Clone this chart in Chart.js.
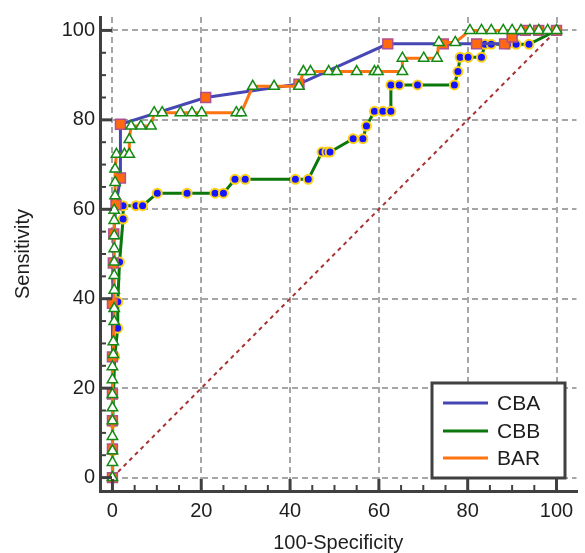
<!DOCTYPE html>
<html><head><meta charset="utf-8">
<script src="https://cdn.jsdelivr.net/npm/chart.js@4/dist/chart.umd.min.js"></script>
<style>html,body{margin:0;padding:0;background:#fff;}</style>
</head><body>
<canvas id="c" width="585" height="553"></canvas>
<script>
// ---- data ----
const seriesNames = ['CBA', 'CBB', 'BAR'];
const cbaX = [0, 0, 0, 0, 0, 0, 0.2, 0.3, 0.8, 1.8, 1.8, 21, 42, 62, 74.5, 82, 88.3, 90, 93, 96, 100];
const cbaY = [0, 6.4, 12.7, 18.7, 27, 39, 48, 54.5, 61, 67, 79, 85, 88, 97, 97, 97, 97, 98.5, 100, 100, 100];
const cbbX = [0, 0, 0.1, 0.5, 1.2, 1.2, 1.6, 2.4, 2.4, 5.3, 6.8, 10.1, 16.8, 23.1, 25, 27.6, 29.9, 41.2, 44.1, 47.2, 48.3, 49, 54.2, 56.4, 57.2, 59, 60.9, 62.7, 62.7, 64.6, 68.7, 77, 77.8, 78.3, 80.1, 83.1, 83.9, 85.3, 89, 90.9, 93.8, 100];
const cbbY = [0, 6, 12.3, 27.1, 33.4, 39.3, 48.2, 57.8, 60.8, 60.8, 60.8, 63.6, 63.6, 63.6, 63.6, 66.7, 66.7, 66.7, 66.7, 72.8, 72.8, 72.8, 75.8, 75.8, 78.6, 81.9, 81.9, 81.9, 87.8, 87.8, 87.8, 87.8, 90.8, 94, 94, 94, 96.9, 96.9, 96.9, 96.9, 96.9, 100];
const barX = [0, 0, 0, 0, 0, 0, 0, 0, 0, 0.2, 0.2, 0.4, 0.4, 0.4, 0.4, 0.4, 0.4, 0.4, 0.4, 0.4, 0.6, 0.6, 0.6, 0.9, 2.7, 3.8, 3.8, 4.2, 6.4, 8.7, 9.4, 11.2, 15.3, 17.9, 20.1, 27.9, 29, 31.6, 36.4, 42, 43, 44.6, 48.7, 50.5, 55, 59, 59.8, 65.3, 65.3, 70.1, 73.1, 73.5, 77.2, 80.5, 83.1, 85.3, 88, 90, 92, 94, 96, 98, 100];
const barY = [0, 3.4, 6, 9.2, 12.7, 15.6, 18.6, 21.9, 24.8, 27.5, 30.4, 34.9, 37.8, 41.9, 45.2, 48.2, 51.2, 54.1, 57.5, 59.8, 63, 66, 69, 72.3, 72.3, 72.3, 75.6, 78.6, 78.6, 78.6, 81.6, 81.6, 81.6, 81.6, 81.6, 81.6, 81.6, 87.5, 87.5, 87.5, 90.8, 90.8, 90.8, 90.8, 90.8, 90.8, 90.8, 90.8, 93.8, 93.8, 93.8, 97.3, 97.3, 100, 100, 100, 100, 100, 100, 100, 100, 100, 100];
const refX = [0, 100];
const refY = [0, 100];
const axisTickValues = [0, 20, 40, 60, 80, 100];
const xTitle = '100-Specificity';
const yTitle = 'Sensitivity';

const pts = (xs, ys) => xs.map((x, i) => ({x: x, y: ys[i]}));

const FONT = 'Arial, "Liberation Sans", sans-serif';
const TXT = '#1e1e1e';
const AXIS = '#404040';

const innerTicks = {
  id: 'innerTicks',
  afterDatasetsDraw(chart) {
    const ctx = chart.ctx, xs = chart.scales.x, ys = chart.scales.y, a = chart.chartArea;
    ctx.save();
    ctx.strokeStyle = AXIS;
    for (let v = 0; v <= 100; v += 5) {
      const major = axisTickValues.includes(v);
      ctx.lineWidth = major ? 3 : 2;
      const len = major ? 12 : 6;
      const py = ys.getPixelForValue(v);
      ctx.beginPath(); ctx.moveTo(a.left, py); ctx.lineTo(a.left + len, py); ctx.stroke();
      const px = xs.getPixelForValue(v);
      ctx.beginPath(); ctx.moveTo(px, a.bottom); ctx.lineTo(px, a.bottom - len); ctx.stroke();
    }
    ctx.restore();
  },
  afterDraw(chart) {
    const ctx = chart.ctx;
    const bx = 432, by = 383, bw = 133, bh = 95;
    ctx.save();
    ctx.fillStyle = '#fff';
    ctx.fillRect(bx, by, bw, bh);
    ctx.strokeStyle = AXIS; ctx.lineWidth = 3;
    ctx.strokeRect(bx, by, bw, bh);
    const rows = [403, 431, 458];
    chart.data.datasets.slice(0, 3).forEach((ds, i) => {
      ctx.strokeStyle = ds.borderColor; ctx.lineWidth = 3;
      ctx.beginPath(); ctx.moveTo(443, rows[i]); ctx.lineTo(488, rows[i]); ctx.stroke();
      ctx.fillStyle = TXT; ctx.font = '21px ' + FONT;
      ctx.textBaseline = 'middle'; ctx.textAlign = 'left';
      ctx.fillText(ds.label, 497, rows[i] + 1);
    });
    ctx.restore();
  }
};

new Chart(document.getElementById('c'), {
  type: 'scatter',
  data: {
    datasets: [
      {label: seriesNames[0], data: pts(cbaX, cbaY), showLine: true, borderColor: '#4646b4', borderWidth: 3,
       pointStyle: 'rect', pointRadius: 7, pointBackgroundColor: '#ff6a10', pointBorderColor: '#b0508f', pointBorderWidth: 1.5, order: 2, clip: false},
      {label: seriesNames[1], data: pts(cbbX, cbbY), showLine: true, borderColor: '#0b760b', borderWidth: 3,
       pointStyle: 'circle', pointRadius: 4.5, pointBackgroundColor: '#1414ff', pointBorderColor: '#ffd21a', pointBorderWidth: 2, order: 3, clip: false},
      {label: seriesNames[2], data: pts(barX, barY), showLine: true, borderColor: '#ff7310', borderWidth: 3,
       pointStyle: 'triangle', pointRadius: 6, pointBackgroundColor: '#ffffff', pointBorderColor: '#148a14', pointBorderWidth: 1.5, order: 1, clip: false},
      {label: 'ref', data: pts(refX, refY), showLine: true, borderColor: '#a83232', borderWidth: 2, borderDash: [4, 4],
       pointRadius: 0, order: 10}
    ]
  },
  options: {
    responsive: false, animation: false, devicePixelRatio: 1,
    layout: {padding: {top: 13, right: 2, left: 0, bottom: 0}},
    plugins: {legend: {display: false}, tooltip: {enabled: false}},
    scales: {
      x: {
        type: 'linear', min: -2.8, max: 104.5,
        afterFit: s => { s.height = 62; },
        ticks: {stepSize: 20, includeBounds: false, autoSkip: false, maxRotation: 0, padding: 8, color: TXT, font: {size: 20, family: FONT}},
        grid: {color: '#a6a6a6', lineWidth: 2, drawTicks: false},
        border: {display: true, color: AXIS, width: 3, dash: [6, 4]},
        title: {display: true, text: xTitle, color: TXT, font: {size: 20, family: FONT, lineHeight: 1}, padding: 0}
      },
      y: {
        type: 'linear', min: -3, max: 103,
        afterFit: s => { s.width = 100; },
        ticks: {stepSize: 20, includeBounds: false, autoSkip: false, padding: 5, color: TXT, font: {size: 20, family: FONT}},
        grid: {color: '#a6a6a6', lineWidth: 2, drawTicks: false},
        border: {display: true, color: AXIS, width: 3, dash: [6, 4]},
        title: {display: true, text: yTitle, color: TXT, font: {size: 20, family: FONT, lineHeight: 1}, padding: {top: 13, bottom: 0}}
      }
    }
  },
  plugins: [innerTicks]
});
</script>
</body></html>
